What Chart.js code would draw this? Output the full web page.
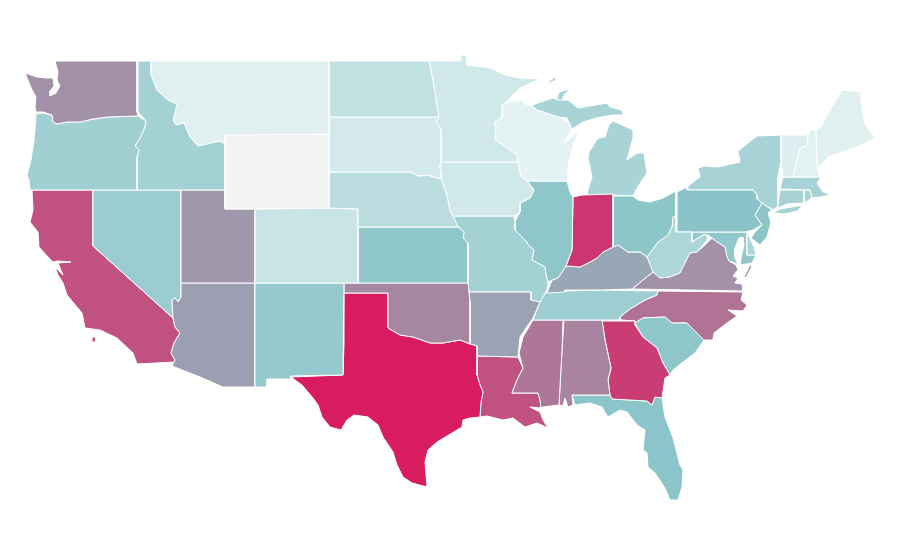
<!DOCTYPE html>
<html lang="en">
<head>
<meta charset="UTF-8">
<title>US states</title>
<script src="https://cdn.jsdelivr.net/npm/chart.js@4/dist/chart.umd.js"></script>
<style>
  html, body { margin: 0; background: #fff; }
  canvas { display: block; }
</style>
</head>
<body>
<canvas id="map" width="900" height="560"></canvas>
<script>
// state outlines in map units, flat x,y lists
const WA = [54,61, 137,61, 137,112, 138,116, 108,117, 93,119, 80,122, 67,122, 57,124, 53,122, 52,115, 43,112, 36,112, 35,107, 36,97, 32,90, 25,73, 37,77, 47,78, 53,78, 54,86, 50,91, 50,96, 56,93, 60,86, 57,80, 58,72, 55,61];
const OR = [36,114, 43,113, 52,115, 53,122, 57,124, 67,122, 80,122, 93,119, 108,117, 138,116, 146,121, 145,127, 140,138, 135,146, 139,150, 137,157, 137,190, 30,190, 29,180, 27,175, 31,160, 34,140];
const ID = [138,61, 151,61, 151,75, 157,90, 168,100, 177,104, 173,120, 176,125, 184,123, 190,137, 198,146, 207,144, 220,141, 225,144, 225,190, 137,190, 137,157, 139,150, 135,146, 140,138, 145,127, 146,121, 138,112];
const MT = [151,61, 329,61, 329,134, 225,135, 225,144, 220,141, 207,144, 198,146, 190,137, 184,123, 176,125, 173,120, 177,104, 168,100, 157,90, 151,75];
const WY = [225,135, 329,134, 329,208, 255,209, 225,209];
const ND = [329,61, 429,61, 433,80, 436,100, 439,117, 329,117];
const SD = [329,117, 439,117, 436,122, 441,129, 441,162, 439,165, 441,170, 441,178, 437,178, 428,175, 418,176, 411,172, 329,172];
const MN = [429,61, 461,61, 461,55, 466,55, 467,65, 490,68, 505,75, 520,78, 540,79, 520,88, 505,103, 502,105, 502,118, 494,122, 496,128, 495,140, 506,147, 517,155, 518,162, 441,162, 441,129, 436,122, 439,117, 436,100, 433,80];
const WI = [502,105, 510,102, 523,100, 524,104, 532,105, 537,110, 558,117, 569,122, 571,130, 564,143, 579,131, 572,148, 568,167, 568,181, 527,181, 521,176, 518,162, 517,155, 506,147, 495,140, 496,128, 494,122, 502,118];
const IA = [439,162, 518,162, 521,176, 527,181, 534,190, 530,198, 520,203, 520,212, 514,216, 453,216, 450,210, 447,195, 441,178, 439,172, 441,165];
const NE = [329,172, 411,172, 418,176, 428,175, 437,178, 441,178, 447,195, 450,210, 453,216, 458,227, 358,227, 358,209, 329,208];
const CO = [255,209, 329,208, 358,209, 358,283, 255,283];
const KS = [358,227, 458,227, 464,232, 463,238, 468,243, 468,283, 358,283];
const NM = [255,283, 344,283, 343,375, 291,376, 291,379, 267,379, 267,387, 255,387];
const UT = [181,190, 225,190, 225,209, 255,209, 255,283, 181,283];
const AZ = [181,283, 255,283, 255,387, 223,387, 200,377, 172,366, 175,360, 171,353, 174,343, 180,333, 175,327, 173,318, 172,300, 175,298, 178,302, 181,297];
const NV = [93,190, 181,190, 181,297, 178,302, 175,298, 172,300, 173,318, 93,246];
const CA = [32,190, 93,190, 93,246, 173,318, 175,327, 180,333, 174,343, 171,353, 175,360, 175,362, 137,364, 133,353, 117,338, 100,330, 85,328, 82,313, 67,295, 63,283, 58,275, 55,267, 63,275, 58,263, 71,262, 57,261, 53,262, 49,258, 39,247, 38,232, 30,222, 33,210];
const CA_island = [92,337, 96,337, 96,342, 92,342];
const OK = [344,283, 468,283, 470,302, 470,344, 460,340, 443,343, 430,343, 413,337, 400,335, 388,328, 388,293, 344,293];
const TX = [344,293, 388,293, 388,328, 400,335, 413,337, 430,343, 443,343, 460,340, 470,344, 477,346, 477,375, 480,385, 483,392, 481,402, 480,417, 470,418, 463,420, 462,427, 447,436, 437,442, 428,450, 425,462, 427,487, 412,483, 403,477, 397,465, 393,452, 383,437, 378,425, 368,417, 354,415, 347,420, 341,430, 330,427, 322,417, 318,405, 313,398, 302,385, 291,377, 343,375, 344,343];
const AR = [469,292, 531,292, 531,300, 540,302, 533,318, 528,325, 520,337, 518,357, 477,356, 477,346, 470,344, 470,302];
const MO = [453,216, 514,216, 515,222, 515,230, 525,240, 530,247, 534,250, 532,260, 545,267, 546,275, 548,282, 547,290, 540,302, 531,300, 531,292, 469,292, 468,283, 468,243, 463,238, 464,232, 458,227];
const IL = [527,181, 567,181, 570,192, 573,197, 572,250, 566,266, 558,278, 552,280, 548,282, 546,275, 545,267, 532,260, 534,250, 530,247, 525,240, 515,230, 515,222, 520,212, 520,203, 530,198, 534,190];
const IN = [573,197, 582,195, 613,194, 613,247, 603,252, 597,258, 590,262, 580,267, 566,266, 572,250];
const OH = [613,196, 633,196, 638,200, 650,202, 663,198, 676,191, 676,216, 673,217, 672,227, 668,235, 658,242, 647,257, 640,252, 628,252, 618,245, 613,247];
const KY = [566,266, 580,267, 590,262, 597,258, 603,252, 613,247, 618,245, 628,252, 640,252, 647,257, 653,272, 643,280, 632,289, 602,290, 565,290, 565,292, 547,293, 552,280, 558,278];
const TN = [547,292, 565,291, 602,290, 658,291, 657,295, 645,300, 630,309, 620,317, 620,320, 533,320, 538,307, 543,295];
const MS = [533,320, 563,320, 562,350, 559,405, 543,407, 541,408, 540,400, 538,393, 512,393, 517,380, 523,368, 519,353, 523,337];
const LA = [477,356, 518,357, 523,368, 517,380, 512,393, 538,393, 540,400, 541,408, 530,407, 540,412, 543,420, 548,428, 537,423, 525,427, 513,418, 503,420, 487,416, 480,417, 481,402, 483,392, 480,385, 477,375];
const AL = [564,320, 602,320, 605,340, 611,368, 608,380, 610,395, 572,395, 573,405, 568,407, 565,398, 563,406, 559,405, 562,350];
const GA = [602,321, 635,321, 635,325, 643,337, 657,348, 663,363, 670,375, 665,378, 662,398, 655,397, 652,405, 647,401, 612,399, 610,395, 608,380, 611,368, 605,340];
const FL = [572,395, 610,395, 612,399, 647,401, 652,405, 655,397, 662,398, 665,417, 673,438, 680,465, 683,470, 682,487, 678,500, 670,500, 665,488, 655,473, 648,467, 647,453, 643,450, 645,430, 637,425, 627,412, 620,410, 608,417, 602,407, 590,403, 575,405];
const SC = [635,323, 643,318, 665,317, 672,323, 687,323, 704,340, 695,353, 683,362, 673,370, 670,375, 663,363, 657,348, 643,337];
const NC = [621,320, 620,317, 630,309, 645,300, 657,295, 658,291, 743,292, 741,300, 747,305, 743,311, 728,310, 737,316, 727,323, 714,333, 713,340, 704,340, 687,323, 672,323, 665,317, 643,318, 635,323, 635,321];
const VA = [632,289, 743,291, 742,284, 735,283, 738,278, 733,276, 738,270, 736,265, 729,261, 727,257, 725,247, 717,242, 712,238, 705,245, 697,252, 690,253, 680,273, 670,277, 660,278, 653,272, 643,280];
const VA_shore = [750,265, 752,266, 746,278, 744,277];
const WV = [647,257, 658,242, 668,235, 672,227, 673,217, 676,216, 676,232, 692,232, 692,242, 703,235, 708,235, 707,240, 697,252, 690,253, 680,273, 670,277, 660,278, 653,272];
const PA = [677,192, 687,187, 687,190, 753,190, 757,195, 757,199, 762,203, 755,215, 762,225, 753,230, 745,232, 677,232];
const NY = [688,190, 688,186, 700,177, 698,168, 705,166, 718,167, 740,162, 738,151, 748,143, 757,136, 781,135, 781,160, 778,177, 778,205, 776,208, 773,210, 762,203, 757,199, 757,195, 753,190];
const NY_island = [773,213, 780,209, 803,205, 797,211, 785,214];
const VT = [782,135, 808,135, 807,145, 800,148, 795,168, 793,177, 783,177, 781,160];
const NH = [811,130, 816,130, 817,167, 819,175, 817,177, 793,177, 795,168, 800,148, 807,145, 808,135];
const ME = [816,130, 820,128, 832,107, 842,90, 860,92, 864,122, 875,138, 857,147, 843,152, 828,157, 819,168, 817,167];
const MA = [783,177, 817,177, 821,177, 817,183, 823,192, 831,195, 820,197, 812,198, 810,190, 780,189];
const CT = [780,190, 804,190, 804,203, 787,204, 778,208, 778,205];
const RI = [804,190, 810,190, 812,198, 804,203];
const NJ = [762,203, 772,210, 768,213, 771,222, 767,237, 760,245, 751,238, 755,232, 762,225, 755,215];
const DE = [747,232, 754,247, 756,255, 747,255];
const MD = [692,232, 747,232, 747,255, 756,255, 752,263, 740,265, 741,258, 744,245, 743,237, 739,238, 735,248, 735,258, 738,264, 729,261, 727,257, 725,247, 717,242, 712,238, 708,235, 703,235, 692,242];
const MI_lower = [588,195, 613,195, 633,196, 637,188, 647,173, 644,153, 637,153, 627,160, 633,138, 633,130, 613,121, 609,125, 605,137, 598,138, 589,152, 588,158, 592,177, 587,193];
const MI_upper = [532,105, 553,98, 558,100, 568,100, 578,108, 607,103, 610,107, 622,110, 623,115, 612,115, 597,118, 583,122, 572,129, 567,118, 558,117, 537,110];
const MI_keweenaw = [556,100, 559,92, 570,89, 564,95, 562,101];
const MI_royale = [548,82, 555,77, 556,80, 550,83];

const stateNames = ['Washington','Oregon','Idaho','Montana','Wyoming','North Dakota','South Dakota','Minnesota','Wisconsin','Iowa','Nebraska','Colorado','Kansas','New Mexico','Utah','Arizona','Nevada','California','Oklahoma','Texas','Arkansas','Missouri','Illinois','Indiana','Ohio','Kentucky','Tennessee','Mississippi','Louisiana','Alabama','Georgia','Florida','South Carolina','North Carolina','Virginia','West Virginia','Pennsylvania','New York','Vermont','New Hampshire','Maine','Massachusetts','Connecticut','Rhode Island','New Jersey','Delaware','Maryland','Michigan'];
const stateValues = [65,38.5,37,7,0,22.5,13.5,15,5,15,25.5,18.5,47,45,63,61,41.5,84,68,100,60,37,48,92,48.5,59,40,73,84,69,90,49,48,74,65,32.5,50,35.5,9,6,7,35.5,35.5,35.5,48.5,32.5,46.5,34.5];
const stateShapes = [[WA],[OR],[ID],[MT],[WY],[ND],[SD],[MN],[WI],[IA],[NE],[CO],[KS],[NM],[UT],[AZ],[NV],[CA,CA_island],[OK],[TX],[AR],[MO],[IL],[IN],[OH],[KY],[TN],[MS],[LA],[AL],[GA],[FL],[SC],[NC],[VA,VA_shore],[WV],[PA],[NY,NY_island],[VT],[NH],[ME],[MA],[CT],[RI],[NJ],[DE],[MD],[MI_lower,MI_upper,MI_keweenaw,MI_royale]];

const colorStops = [[0,[242,243,245]],[5,[228,242,243]],[50,[138,196,200]],[100,[217,27,95]]];

function colorFor(v) {
  for (let i = 1; i < colorStops.length; i++) {
    const [a, ca] = colorStops[i-1], [b, cb] = colorStops[i];
    if (v <= b) {
      const t = (v - a) / (b - a);
      const c = ca.map((k, j) => Math.round(k + (cb[j] - k) * t));
      return `rgb(${c[0]},${c[1]},${c[2]})`;
    }
  }
}

function toPoints(flat) {
  const pts = [];
  for (let i = 0; i < flat.length; i += 2) pts.push({x: flat[i], y: flat[i+1]});
  pts.push({x: flat[0], y: flat[1]});
  return pts;
}

const datasets = [];
stateShapes.forEach((parts, i) => {
  parts.forEach(part => {
    datasets.push({
      label: stateNames[i],
      data: toPoints(part),
      showLine: true,
      fill: 'shape',
      tension: 0,
      pointRadius: 0,
      pointHoverRadius: 0,
      borderWidth: 1,
      borderColor: '#ffffff',
      backgroundColor: colorFor(stateValues[i])
    });
  });
});

new Chart(document.getElementById('map'), {
  type: 'scatter',
  data: { datasets },
  options: {
    responsive: false,
    animation: false,
    layout: { padding: 0 },
    plugins: { legend: { display: false }, tooltip: { enabled: false } },
    scales: {
      x: { type: 'linear', min: 0, max: 900, display: false },
      y: { type: 'linear', min: 0, max: 560, reverse: true, display: false }
    }
  }
});
</script>
</body>
</html>
